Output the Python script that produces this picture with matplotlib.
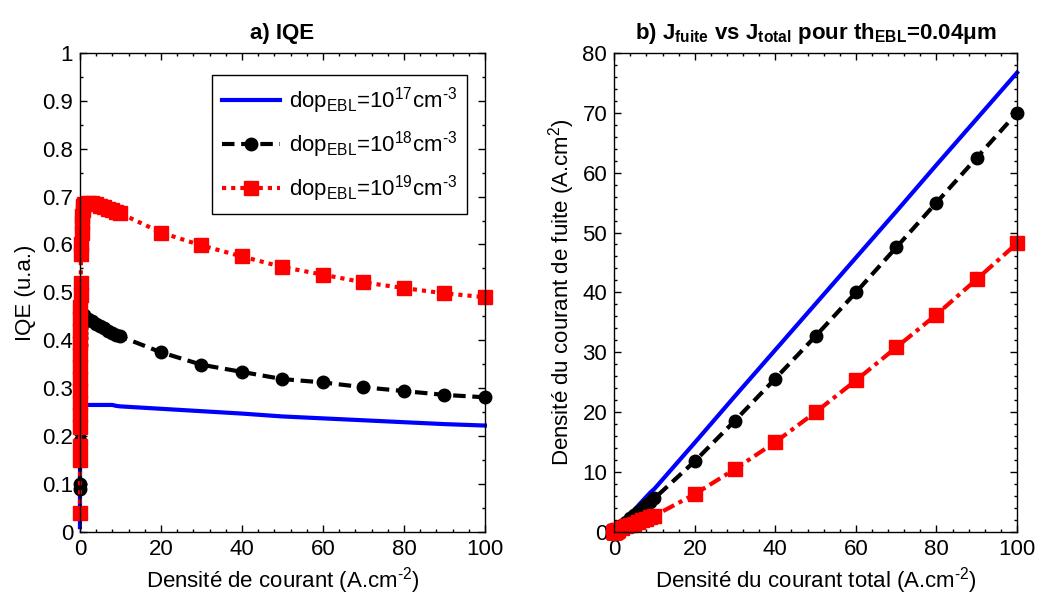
import matplotlib
matplotlib.use("Agg")
import matplotlib.pyplot as plt
from matplotlib.ticker import MultipleLocator

plt.rcParams["font.family"] = ["Liberation Sans", "DejaVu Sans"]
plt.rcParams["mathtext.fontset"] = "custom"
plt.rcParams["mathtext.rm"] = "Liberation Sans"
plt.rcParams["mathtext.bf"] = "Liberation Sans:bold"
plt.rcParams["mathtext.default"] = "regular"
plt.rcParams["font.size"] = 16

# current density sweep (A.cm-2)
j_total = [0, 0.002, 0.005, 0.01, 0.015, 0.02, 0.03, 0.04, 0.05, 0.06, 0.07, 0.08,
           0.1, 0.12, 0.15, 0.2, 0.25, 0.3, 0.4, 0.5, 0.6, 0.7, 0.8,
           1, 2, 3, 4, 5, 6, 7, 8, 9, 10,
           20, 30, 40, 50, 60, 70, 80, 90, 100]

# a) IQE
iqe_17 = [0.01, 0.03, 0.05, 0.08, 0.1, 0.12, 0.15, 0.17, 0.19, 0.2, 0.21, 0.22,
          0.23, 0.24, 0.245, 0.25, 0.254, 0.257, 0.26, 0.262, 0.263, 0.264, 0.265,
          0.265, 0.265, 0.265, 0.265, 0.265, 0.265, 0.265, 0.265, 0.263, 0.262,
          0.257, 0.252, 0.247, 0.241, 0.237, 0.233, 0.229, 0.225, 0.222]
iqe_18 = [0.09, 0.10, 0.17, 0.18, 0.19, 0.21, 0.24, 0.27, 0.29, 0.31, 0.33, 0.345,
          0.36, 0.375, 0.39, 0.405, 0.415, 0.425, 0.435, 0.44, 0.445, 0.448, 0.45,
          0.452, 0.445, 0.44, 0.435, 0.43, 0.425, 0.42, 0.415, 0.412, 0.408,
          0.375, 0.349, 0.334, 0.319, 0.312, 0.302, 0.294, 0.286, 0.281]
iqe_19 = [0.04, 0.15, 0.18, 0.22, 0.245, 0.27, 0.295, 0.32, 0.345, 0.37, 0.395, 0.42,
          0.445, 0.47, 0.495, 0.52, 0.58, 0.60, 0.625, 0.645, 0.66, 0.672, 0.68,
          0.685, 0.686, 0.686, 0.684, 0.681, 0.678, 0.674, 0.671, 0.668, 0.665,
          0.625, 0.598, 0.575, 0.553, 0.537, 0.521, 0.509, 0.498, 0.49]

# b) leakage current density (A.cm-2)
jf_17 = [0, 0.002, 0.005, 0.009, 0.013, 0.018, 0.026, 0.033, 0.04, 0.048, 0.055, 0.062,
         0.077, 0.092, 0.113, 0.15, 0.19, 0.22, 0.3, 0.37, 0.44, 0.52, 0.59,
         0.74, 1.47, 2.2, 2.94, 3.67, 4.41, 5.15, 5.88, 6.6, 7.2,
         14.9, 22.7, 30.4, 38.1, 45.8, 53.5, 61.3, 69.0, 76.7]
jf_18 = [0, 0.002, 0.004, 0.008, 0.012, 0.016, 0.023, 0.029, 0.036, 0.041, 0.047, 0.052,
         0.064, 0.075, 0.092, 0.12, 0.15, 0.17, 0.23, 0.28, 0.33, 0.39, 0.44,
         0.55, 1.1, 1.68, 2.25, 2.8, 3.35, 3.9, 4.45, 5.0, 5.6,
         11.8, 18.6, 25.6, 32.7, 40.0, 47.5, 55.0, 62.5, 70.0]
jf_19 = [0, 0.002, 0.004, 0.008, 0.011, 0.015, 0.021, 0.027, 0.033, 0.038, 0.042, 0.046,
         0.055, 0.064, 0.076, 0.1, 0.11, 0.12, 0.15, 0.18, 0.21, 0.23, 0.26,
         0.3, 0.6, 0.9, 1.15, 1.4, 1.7, 1.95, 2.2, 2.45, 2.7,
         6.3, 10.5, 15.0, 20.0, 25.3, 30.8, 36.3, 42.2, 48.2]

labels = [r"dop$_{EBL}$=10$^{17}$cm$^{\text{-}3}$",
          r"dop$_{EBL}$=10$^{18}$cm$^{\text{-}3}$",
          r"dop$_{EBL}$=10$^{19}$cm$^{\text{-}3}$"]

fig = plt.figure(figsize=(10.41, 6.01), dpi=100)
ax1 = fig.add_axes([0.0768, 0.115, 0.389, 0.797])
ax2 = fig.add_axes([0.590, 0.115, 0.387, 0.797])

blue = "#0000ff"
red = "#ff0000"

ax1.plot(j_total, iqe_17, color=blue, lw=3, label=labels[0])
ax1.plot(j_total, iqe_18, color="black", lw=3, ls=(0, (3, 1.6)), marker="o", ms=9,
         label=labels[1])
ax1.plot(j_total, iqe_19, color=red, lw=3, ls=(0, (1, 1.2)), marker="s", ms=10,
         label=labels[2])

ax2.plot(j_total, jf_17, color=blue, lw=3)
ax2.plot(j_total, jf_18, color="black", lw=3, ls=(0, (3, 1.6)), marker="o", ms=9)
ax2.plot(j_total, jf_19, color=red, lw=3, ls=(0, (3, 1.2, 1, 1.2)), marker="s", ms=10)

ax1.set_xlim(0, 100)
ax1.set_ylim(0, 1)
ax1.set_yticks([i / 10 for i in range(11)])
ax1.set_yticklabels(["0"] + ["%.1f" % (i / 10) for i in range(1, 10)] + ["1"])
ax1.yaxis.set_minor_locator(MultipleLocator(0.05))

ax2.set_xlim(0, 100)
ax2.set_ylim(0, 80)
ax2.yaxis.set_major_locator(MultipleLocator(10))
ax2.yaxis.set_minor_locator(MultipleLocator(2))

for ax in (ax1, ax2):
    ax.xaxis.set_major_locator(MultipleLocator(20))
    ax.xaxis.set_minor_locator(MultipleLocator(4))
    ax.tick_params(which="both", direction="in", top=True, right=True, width=1)
    ax.tick_params(which="major", length=5, pad=5)
    ax.tick_params(which="minor", length=2.5)
    for s in ax.spines.values():
        s.set_linewidth(1)
    for c in ax.lines:
        c.set_clip_on(False)

ax1.set_title("a) IQE", fontweight="bold", fontsize=16, pad=10)
ax1.set_xlabel(r"Densité de courant (A.cm$^{\text{-}2}$)")
ax1.set_ylabel("IQE (u.a.)")
ax2.set_title(r"b) J$_{\mathbf{fuite}}$ vs J$_{\mathbf{total}}$ pour th$_{\mathbf{EBL}}$=0.04μm",
              fontweight="bold", fontsize=16, pad=10)
ax2.set_xlabel(r"Densité du courant total (A.cm$^{\text{-}2}$)")
ax2.set_ylabel(r"Densité du courant de fuite (A.cm$^{2}$)")

leg = ax1.legend(loc="upper right", bbox_to_anchor=(0.983, 0.977), fancybox=False,
                 edgecolor="black", framealpha=1, handlelength=2.6, borderpad=0.45,
                 labelspacing=0.6, handletextpad=0.4, fontsize=16)
leg.get_frame().set_linewidth(1)

fig.savefig("out.png", dpi=100)
